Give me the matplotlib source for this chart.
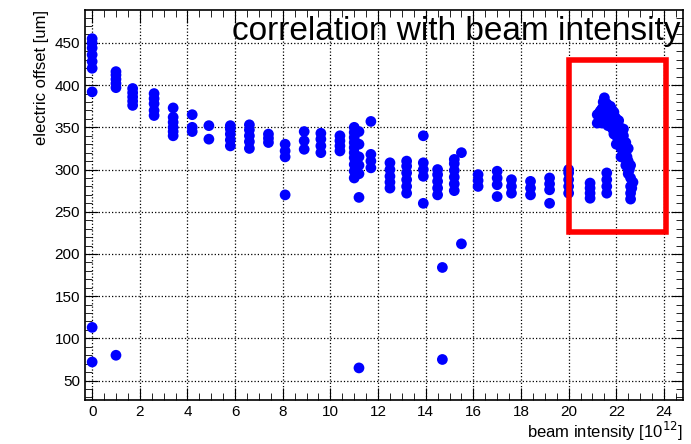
import numpy as np
import matplotlib
matplotlib.use("Agg")
import matplotlib.pyplot as plt
from matplotlib.patches import Rectangle

plt.rcParams["font.family"] = ["Liberation Sans", "DejaVu Sans"]

# clusters: beam intensity -> list of electric offsets
cluster_x = [0.0, 0.0, 1.0, 1.7, 2.6, 3.4, 4.2, 4.9, 5.8, 6.6, 7.4, 8.1, 8.9, 9.6, 10.4,
             11.0, 11.2, 11.7, 12.5, 13.2, 13.9, 14.5, 14.7, 15.2, 15.5, 16.2, 17.0,
             17.6, 18.4, 19.2, 20.0, 20.9, 21.6]
cluster_y = [
    [392, 420, 428, 436, 444, 450, 455],
    [113, 72],
    [80, 397, 402, 407, 412, 416],
    [376, 381, 386, 391, 396],
    [364, 370, 378, 384, 390],
    [340, 345, 350, 356, 362, 373],
    [345, 350, 365],
    [336, 352],
    [328, 335, 342, 348, 352],
    [325, 333, 340, 347, 353],
    [332, 337, 342],
    [270, 315, 322, 330],
    [324, 334, 345],
    [320, 328, 336, 343],
    [322, 328, 334, 340],
    [290, 298, 306, 314, 320, 326, 332, 338, 344, 350],
    [267, 65, 295, 305, 315, 330, 345],
    [302, 310, 318, 357],
    [278, 285, 292, 300, 308],
    [272, 280, 288, 296, 304, 310],
    [260, 340, 292, 300, 308],
    [270, 278, 286, 294, 300],
    [184, 75],
    [275, 283, 291, 299, 307, 312],
    [212, 320],
    [280, 287, 294],
    [268, 282, 290, 298],
    [272, 280, 288],
    [270, 278, 286],
    [260, 276, 283, 290],
    [272, 280, 288, 296, 300],
    [266, 272, 278, 284],
    [272, 280, 288, 296],
]
# high-intensity blob
blob_x = [21.2, 21.3, 21.4, 21.5, 21.5, 21.6, 21.7, 21.8, 21.9, 22.0, 22.0, 22.1, 22.2,
          22.2, 22.3, 22.3, 22.4, 22.4, 22.5, 22.5, 22.6, 22.6, 22.6, 21.4, 21.6, 21.8,
          22.0, 22.1, 21.7, 21.9, 22.3, 22.5, 22.4, 22.6, 21.3, 21.5, 22.2, 22.7,
          21.2, 21.35, 21.45, 21.55, 21.65, 21.75, 21.85, 21.95, 22.05, 22.15, 22.25,
          22.35, 22.45, 22.55, 22.65, 21.3, 21.6, 21.9, 22.1, 22.3, 22.5, 21.8, 22.0,
          22.2, 22.4, 22.6, 21.6, 21.8]
blob_y = [365, 360, 372, 385, 368, 378, 370, 362, 355, 350, 340, 345, 335, 325, 330,
          318, 320, 305, 310, 295, 290, 280, 265, 355, 360, 350, 330, 352, 365, 342,
          340, 300, 312, 272, 358, 378, 315, 285,
          355, 370, 380, 362, 352, 375, 348, 362, 345, 335, 342, 325, 315, 300, 278,
          368, 365, 368, 358, 348, 325, 372, 360, 330, 332, 305, 372, 358]

xs, ys = [], []
for cx, cy in zip(cluster_x, cluster_y):
    xs += [cx] * len(cy)
    ys += cy
xs += blob_x
ys += blob_y

fig = plt.figure(figsize=(6.91, 4.44), dpi=100)
ax = fig.add_axes([85 / 691, 44 / 444, 598 / 691, 390 / 444])
ax.scatter(xs, ys, s=60, color="#0000ff", edgecolors="none", zorder=3)

ax.set_xlim(-0.3, 24.8)
ax.set_ylim(27, 489)
ax.set_xticks(np.arange(0, 25, 2))
ax.set_yticks(np.arange(50, 451, 50))
ax.set_xticks(np.arange(0, 25, 0.5), minor=True)
ax.set_yticks(np.arange(30, 489, 10), minor=True)
ax.tick_params(which="both", direction="in", top=True, right=True, labelsize=11)
ax.tick_params(which="major", length=9)
ax.tick_params(which="minor", length=5)
ax.grid(True, which="major", linestyle=":", color="black", linewidth=0.9)
for s in ax.spines.values():
    s.set_linewidth(1.2)

ax.set_xlabel(r"beam intensity [10$^{12}$]", fontsize=12, loc="right", labelpad=1)
ax.set_ylabel("electric offset [um]", fontsize=12, loc="top")
ax.text(0.995, 0.985, "correlation with beam intensity", transform=ax.transAxes,
        ha="right", va="top", fontsize=24, zorder=5)

ax.add_patch(Rectangle((20.0, 226), 4.1, 204, fill=False, edgecolor="#ff0000",
                       linewidth=4, zorder=4))

fig.savefig("out.png", dpi=100)
